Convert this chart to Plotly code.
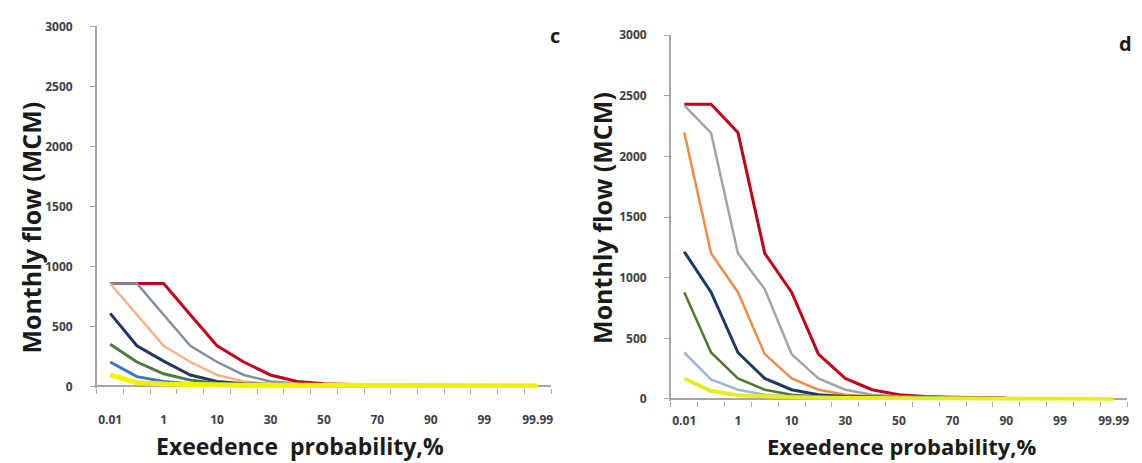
import plotly.graph_objects as go

# Exceedence-probability categories (%), shared by both panels
categories = ["0.01", "0.1", "1", "5", "10", "20", "30", "40", "50", "60",
              "70", "80", "90", "95", "99", "99.9", "99.99"]
tick_labels = ["0.01", "1", "10", "30", "50", "70", "90", "99", "99.99"]

# Panel c: monthly flow (MCM)
c_red = [857, 857, 857, 597, 338, 203, 95, 40, 22, 15, 10, 6]
c_gray = [857, 857, 597, 338, 203, 95, 40, 22, 15, 10, 6, 4]
c_orange = [857, 597, 338, 203, 95, 40, 22, 15, 10, 6, 4, 3, 2]
c_navy = [608, 338, 210, 95, 40, 22, 15, 10, 6, 4, 3, 2, 2, 1]
c_green = [351, 203, 105, 52, 27, 18, 12, 8, 6, 4, 3, 2, 2, 1, 1]
c_blue = [203, 81, 40, 22, 15, 10, 8, 6, 4, 3, 2, 2, 1, 1, 1, 1]
c_yellow = [95, 30, 20, 14, 12, 10, 10, 9, 9, 8, 8, 8, 7, 7, 6, 5, 4]

# Panel d: monthly flow (MCM)
d_red = [2430, 2430, 2198, 1201, 880, 370, 169, 76, 35, 20, 14, 10, 8]
d_gray = [2420, 2193, 1201, 906, 370, 169, 76, 35, 20, 14, 10, 8, 6]
d_orange = [2198, 1201, 880, 370, 169, 76, 35, 20, 14, 10, 8, 6, 5]
d_navy = [1214, 880, 383, 169, 76, 35, 20, 14, 10, 8, 6, 5, 4, 3]
d_green = [880, 383, 169, 76, 35, 20, 14, 10, 8, 6, 5, 4, 3, 2, 2]
d_lblue = [383, 160, 76, 35, 20, 14, 10, 8, 6, 5, 4, 3, 2, 2, 1, 1]
d_yellow = [169, 65, 30, 20, 14, 10, 8, 6, 5, 4, 3, 2, 2, 1, 1, 1, 0]

c_series = [
    (c_red, "#C0001E", 3), (c_gray, "#7F8FA8", 2.5), (c_orange, "#F6B48A", 2.5),
    (c_navy, "#23385F", 3), (c_green, "#4F7A3C", 3), (c_blue, "#4472C4", 3),
    (c_yellow, "#F2F200", 5),
]
d_series = [
    (d_red, "#C00018", 3), (d_gray, "#A0A4A8", 2.5), (d_orange, "#EE8C4A", 2.5),
    (d_navy, "#1F3864", 3), (d_green, "#4E7A34", 2.5), (d_lblue, "#9DB6DC", 2.5),
    (d_yellow, "#E4EE22", 4),
]

W, H = 1142, 463
fig = go.Figure()

for vals, col, w in c_series:
    fig.add_trace(go.Scatter(x=list(range(len(vals))), y=vals, mode="lines",
                             line=dict(color=col, width=w), xaxis="x", yaxis="y",
                             showlegend=False))
for vals, col, w in d_series:
    fig.add_trace(go.Scatter(x=list(range(len(vals))), y=vals, mode="lines",
                             line=dict(color=col, width=w), xaxis="x2", yaxis="y2",
                             showlegend=False))

tickfont = dict(family="Liberation Sans Narrow, Open Sans", size=12,
                color="#404040", weight="bold")
axcol = "#A6A6A6"
label_pos = [categories.index(t) for t in tick_labels]
boundaries = [i - 0.5 for i in range(len(categories) + 1)]


def xaxis_cfg(domain, anchor, standoff):
    return dict(domain=domain, anchor=anchor, range=[-0.5, len(categories) - 0.5],
                tickmode="array", tickvals=label_pos, ticktext=tick_labels,
                ticks="", showgrid=False, zeroline=False, showline=False,
                tickfont=tickfont, ticklabelstandoff=standoff,
                minor=dict(tickmode="array", tickvals=boundaries, ticks="outside",
                           ticklen=5, tickcolor=axcol, tickwidth=1, showgrid=False))


def yaxis_cfg(domain, anchor):
    return dict(domain=domain, anchor=anchor, range=[-15, 3000],
                tickmode="array", tickvals=[0, 500, 1000, 1500, 2000, 2500, 3000],
                ticks="outside", ticklen=5, tickcolor=axcol, showgrid=False,
                zeroline=True, zerolinecolor=axcol, zerolinewidth=1.5,
                showline=True, linecolor=axcol, linewidth=1.5,
                tickfont=tickfont, ticklabelstandoff=15)


# plot-area pixel geometry: value 0 and 3000 rows
c_y0, c_y3000 = 390, 18
d_y0, d_y3000 = 403, 27
c_bot = c_y0 + 15 * (c_y0 - c_y3000) / 3000
d_bot = d_y0 + 15 * (d_y0 - d_y3000) / 3000

fig.update_layout(
    width=W, height=H, margin=dict(l=0, r=0, t=0, b=0),
    paper_bgcolor="white", plot_bgcolor="white",
    xaxis=xaxis_cfg([97 / W, 552 / W], "y", 23),
    yaxis=yaxis_cfg([1 - c_bot / H, 1 - c_y3000 / H], "x"),
    xaxis2=xaxis_cfg([672 / W, 1129 / W], "y2", 11),
    yaxis2=yaxis_cfg([1 - d_bot / H, 1 - d_y3000 / H], "x2"),
)

title_font = dict(family="Open Sans", size=23, color="#1A1A1A", weight="bold")
title_font_d = dict(family="Open Sans", size=22, color="#1A1A1A", weight="bold")
ytitle_font = dict(family="Open Sans", size=25, color="#1A1A1A", weight="bold")
ann = [
    dict(text="Monthly flow (MCM)", x=31 / W, y=1 - 226 / H, textangle=-90, font=ytitle_font),
    dict(text="Monthly flow (MCM)", x=603 / W, y=1 - 216 / H, textangle=-90, font=ytitle_font),
    dict(text="Exeedence\u00a0\u00a0probability,%", x=301 / W, y=1 - 452 / H, font=title_font),
    dict(text="Exeedence probability,%", x=904 / W, y=1 - 452 / H, font=title_font_d),
]
for a in ann:
    fig.add_annotation(xref="paper", yref="paper", showarrow=False,
                       xanchor="center", yanchor="middle", **a)

letter_font = dict(family="Open Sans", size=20, color="#1A1A1A", weight="bold")
fig.add_annotation(text="c", x=556 / W, y=1 - 27 / H, xref="paper", yref="paper",
                   showarrow=False, xanchor="center", yanchor="middle", font=letter_font)
fig.add_annotation(text="d", x=1127 / W, y=1 - 36 / H, xref="paper", yref="paper",
                   showarrow=False, xanchor="center", yanchor="middle", font=letter_font)

fig.write_html("out.html", config={"displayModeBar": False},
               post_script="document.body.style.margin='0';"
                           "document.body.style.overflow='hidden';")
